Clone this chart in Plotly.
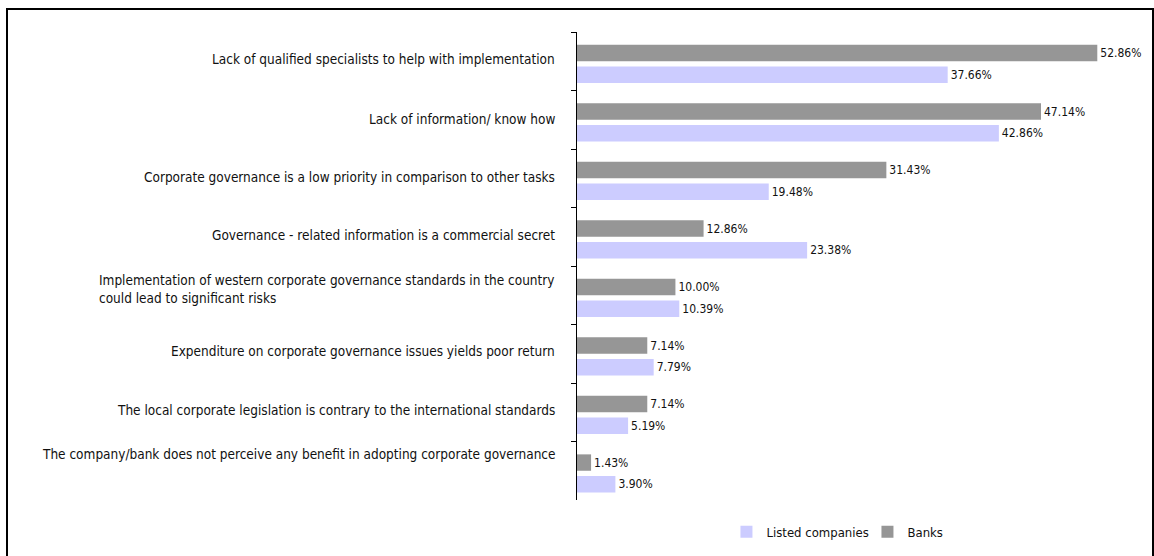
import plotly.graph_objects as go

# Survey responses: obstacles to improving corporate governance
categories = [
    "Lack of qualified specialists to help with implementation",
    "Lack of information/ know how",
    "Corporate governance is a low priority in comparison to other tasks",
    "Governance - related information is a commercial secret",
    "Implementation of western corporate governance standards in the country<br>could lead to significant risks",
    "Expenditure on corporate governance issues yields poor return",
    "The local corporate legislation is contrary to the international standards",
    "The company/bank does not perceive any benefit in adopting corporate governance",
]
banks = [52.86, 47.14, 31.43, 12.86, 10.00, 7.14, 7.14, 1.43]
listed_companies = [37.66, 42.86, 19.48, 23.38, 10.39, 7.79, 5.19, 3.90]

# vertical nudge (px) of each category caption
label_shift = [2, 1, 1, 2, 6, 3, 2, 17]

FONT = "DejaVu Sans Condensed, Liberation Sans Narrow, Arial Narrow, sans-serif"
W, H = 1154, 556
M_L, M_R, M_T, M_B = 577, 13, 32, 56
BAR_W = 0.28

fig = go.Figure()
fig.add_trace(go.Bar(
    name="Listed companies", y=categories, x=listed_companies, orientation="h",
    marker=dict(color="#CCCCFF", line=dict(width=0)),
    width=BAR_W, offset=0.09,
    texttemplate="%{x:.2f}%", textposition="outside", constraintext="none",
    cliponaxis=False, textfont=dict(family=FONT, size=12, color="#111111"),
))
fig.add_trace(go.Bar(
    name="Banks", y=categories, x=banks, orientation="h",
    marker=dict(color="#969696", line=dict(width=0)),
    width=BAR_W, offset=-0.28,
    texttemplate="%{x:.2f}%", textposition="outside", constraintext="none",
    cliponaxis=False, textfont=dict(family=FONT, size=12, color="#111111"),
))

annotations = [
    dict(x=0, xref="x", y=c, yref="y", text=c, showarrow=False,
         xanchor="right", yanchor="middle", align="left", xshift=-20, yshift=s,
         font=dict(family=FONT, size=13.5, color="#111111"))
    for c, s in zip(categories, label_shift)
]

pw = W - M_L - M_R
ph = H - M_T - M_B
fig.add_shape(
    type="rect", xref="paper", yref="paper",
    x0=(7 - M_L) / pw, x1=(1153 - M_L) / pw,
    y0=-(M_B + 20) / ph, y1=(H - 9 - M_B) / ph,
    line=dict(color="#000000", width=2), fillcolor="rgba(0,0,0,0)", layer="below",
)

fig.update_layout(
    width=W, height=H,
    margin=dict(l=M_L, r=M_R, t=M_T, b=M_B, autoexpand=False),
    paper_bgcolor="white", plot_bgcolor="white",
    barmode="group",
    font=dict(family=FONT, size=12, color="#111111"),
    showlegend=True,
    legend=dict(orientation="h", x=0.265, y=-0.068, xanchor="left", yanchor="middle",
                traceorder="normal", font=dict(family=FONT, size=13, color="#111111"),
                entrywidth=96),
    annotations=annotations,
    xaxis=dict(range=[0, 57.3], visible=False, showgrid=False, zeroline=False),
    yaxis=dict(type="category", categoryarray=categories, range=[7.5, -0.5],
               showticklabels=False, showgrid=False, zeroline=False,
               showline=True, linecolor="#000000", linewidth=1,
               ticks="outside", ticklen=5, tickcolor="#000000", tickson="boundaries"),
)

fig.write_html("out.html")
